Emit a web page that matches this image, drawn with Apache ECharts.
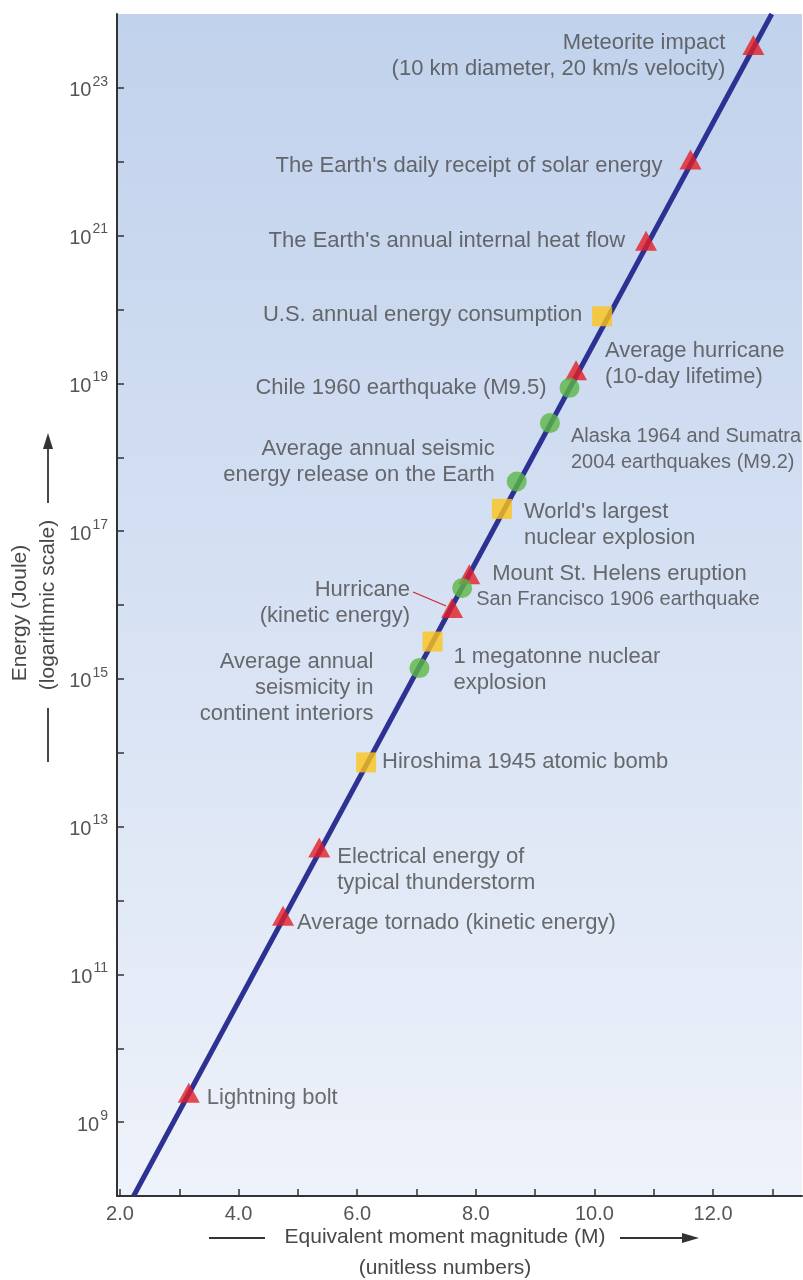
<!DOCTYPE html>
<html>
<head>
<meta charset="utf-8">
<script src="https://cdn.jsdelivr.net/npm/echarts@6/dist/echarts.min.js"></script>
<style>
html,body{margin:0;padding:0;background:#fff;}
#chart{width:803px;height:1280px;}
</style>
</head>
<body>
<div id="chart"></div>
<script>
// ---- Data ----
// Trend line: Energy vs equivalent moment magnitude
const lineMagnitudes = [2.23, 12.99];
const lineEnergies = [1e8, 1e24];

// Red triangles: natural phenomena
const triNames = [
  'Meteorite impact\n(10 km diameter, 20 km/s velocity)',
  "The Earth's daily receipt of solar energy",
  "The Earth's annual internal heat flow",
  'Average hurricane\n(10-day lifetime)',
  'Mount St. Helens eruption',
  'Hurricane\n(kinetic energy)',
  'Electrical energy of\ntypical thunderstorm',
  'Average tornado (kinetic energy)',
  'Lightning bolt'
];
const triMagnitudes = [12.68, 11.62, 10.87, 9.69, 7.89, 7.60, 5.36, 4.75, 3.16];
const triEnergies = [3.8e23, 1.07e22, 8.5e20, 1.5e19, 2.6e16, 9.1e15, 5.2e12, 6.2e11, 2.5e9];

// Yellow squares: human energy / explosions
const sqNames = [
  'U.S. annual energy consumption',
  "World's largest\nnuclear explosion",
  '1 megatonne nuclear\nexplosion',
  'Hiroshima 1945 atomic bomb'
];
const sqMagnitudes = [10.13, 8.44, 7.27, 6.15];
const sqEnergies = [8.1e19, 2.0e17, 3.2e15, 7.4e13];

// Green circles: earthquakes / seismicity
const cirNames = [
  'Chile 1960 earthquake (M9.5)',
  'Alaska 1964 and Sumatra\n2004 earthquakes (M9.2)',
  'Average annual seismic\nenergy release on the Earth',
  'San Francisco 1906 earthquake',
  'Average annual\nseismicity in\ncontinent interiors'
];
const cirMagnitudes = [9.58, 9.25, 8.69, 7.77, 7.05];
const cirEnergies = [8.7e18, 2.9e18, 4.7e17, 1.7e16, 1.4e15];

// Axis ticks
const xTickValues = [2, 3, 4, 5, 6, 7, 8, 9, 10, 11, 12, 13];
const xLabelValues = [2, 4, 6, 8, 10, 12];
const yTickValues = [1e8,1e9,1e10,1e11,1e12,1e13,1e14,1e15,1e16,1e17,1e18,1e19,1e20,1e21,1e22,1e23,1e24];
const yLabelValues = [1e9,1e11,1e13,1e15,1e17,1e19,1e21,1e23];

// ---- Label layout (align, dx, dy in px relative to marker centre, font size) ----
const triLayout = [['right',-28,11,22],['right',-28,6,22],['right',-21,0,22],['left',29,-6,22],['left',23,0,22],['right',-42,-5,22],['left',18,22,22],['left',14,7,22],['left',18,5,22]];
const sqLayout = [['right',-20,-1,22],['left',22,16,22],['left',21,28,22],['left',16,0,22]];
const cirLayout = [['right',-23,0,22],['left',21,26,20],['right',-22,-20,22],['left',14,12,20],['right',-46,20,22]];

const FONT = '"Liberation Sans", Arial, Helvetica, sans-serif';
const TXT = '#484848';

function buildData(names, mags, ens, layout) {
  return names.map((n, i) => ({
    name: n,
    value: [mags[i], ens[i]],
    label: {
      show: true,
      formatter: n,
      position: 'inside',
      align: layout[i][0],
      verticalAlign: 'middle',
      offset: [layout[i][1], layout[i][2]],
      fontSize: layout[i][3],
      lineHeight: 26,
      color: TXT,
      fontFamily: FONT
    }
  }));
}

const chart = echarts.init(document.getElementById('chart'), null, {renderer: 'canvas'});

const option = {
  animation: false,
  backgroundColor: '#ffffff',
  grid: {
    left: 117, top: 14, width: 685, height: 1182,
    show: true, borderWidth: 0,
    backgroundColor: new echarts.graphic.LinearGradient(0, 0, 0, 1, [
      {offset: 0, color: '#c1d2ec'},
      {offset: 0.5, color: '#d6e1f3'},
      {offset: 1, color: '#eef2fa'}
    ])
  },
  xAxis: {
    type: 'value', min: 1.95, max: 13.5,
    splitLine: {show: false},
    axisLine: {show: true, lineStyle: {color: '#333', width: 2}},
    axisTick: {show: true, inside: true, length: 7, customValues: xTickValues, lineStyle: {color: '#333', width: 1.5}},
    axisLabel: {
      customValues: xLabelValues, margin: 8,
      fontSize: 20, color: '#555', fontFamily: FONT,
      formatter: v => Number(v).toFixed(1)
    }
  },
  yAxis: {
    type: 'log', logBase: 10, min: 1e8, max: 1e24,
    splitLine: {show: false},
    axisLine: {show: true, lineStyle: {color: '#333', width: 2}},
    axisTick: {show: true, inside: true, length: 7, customValues: yTickValues, lineStyle: {color: '#333', width: 1.5}},
    axisLabel: {
      customValues: yLabelValues, margin: 9,
      color: '#555', fontFamily: FONT,
      formatter: v => '{b|10}{s|' + Math.round(Math.log10(v)) + '}',
      rich: {
        b: {fontSize: 20, lineHeight: 26, color: '#555', fontFamily: FONT, verticalAlign: 'bottom'},
        s: {fontSize: 14, lineHeight: 26, color: '#555', fontFamily: FONT, verticalAlign: 'top', padding: [0,0,0,1]}
      }
    }
  },
  series: [
    {
      type: 'line', name: 'trend',
      data: lineMagnitudes.map((m, i) => [m, lineEnergies[i]]),
      showSymbol: false, symbol: 'none',
      lineStyle: {color: '#2c3192', width: 5},
      z: 1, silent: true
    },
    {
      type: 'scatter', name: 'phenomena', symbol: 'triangle', symbolSize: [22, 20],
      itemStyle: {color: '#e31e26'},
      data: buildData(triNames, triMagnitudes, triEnergies, triLayout), z: 3
    },
    {
      type: 'scatter', name: 'explosions', symbol: 'rect', symbolSize: 20,
      itemStyle: {color: '#fcc419'},
      data: buildData(sqNames, sqMagnitudes, sqEnergies, sqLayout), z: 3
    },
    {
      type: 'scatter', name: 'earthquakes', symbol: 'circle', symbolSize: 20,
      itemStyle: {color: '#5cb746'},
      data: buildData(cirNames, cirMagnitudes, cirEnergies, cirLayout), z: 3
    }
  ]
};
chart.setOption(option);

// Decorations: axis titles with arrows, and the leader line for "Hurricane (kinetic energy)"
const hk = chart.convertToPixel({gridIndex: 0}, [triMagnitudes[5], triEnergies[5]]);
const ax = '#333';
chart.setOption({
  graphic: [
    {type: 'text', x: 20, y: 613, rotation: Math.PI / 2,
     style: {text: 'Energy (Joule)', fill: TXT, font: '21px ' + FONT, textAlign: 'center', textVerticalAlign: 'middle'}},
    {type: 'text', x: 48, y: 605, rotation: Math.PI / 2,
     style: {text: '(logarithmic scale)', fill: TXT, font: '21px ' + FONT, textAlign: 'center', textVerticalAlign: 'middle'}},
    {type: 'line', shape: {x1: 48, y1: 503, x2: 48, y2: 446}, style: {stroke: ax, lineWidth: 1.8}},
    {type: 'polygon', shape: {points: [[48, 433], [43, 449], [53, 449]]}, style: {fill: ax}},
    {type: 'line', shape: {x1: 48, y1: 708, x2: 48, y2: 762}, style: {stroke: ax, lineWidth: 1.8}},

    {type: 'text', x: 445, y: 1237,
     style: {text: 'Equivalent moment magnitude (M)', fill: TXT, font: '21px ' + FONT, textAlign: 'center', textVerticalAlign: 'middle'}},
    {type: 'text', x: 445, y: 1268,
     style: {text: '(unitless numbers)', fill: TXT, font: '21px ' + FONT, textAlign: 'center', textVerticalAlign: 'middle'}},
    {type: 'line', shape: {x1: 209, y1: 1238, x2: 265, y2: 1238}, style: {stroke: ax, lineWidth: 1.8}},
    {type: 'line', shape: {x1: 620, y1: 1238, x2: 686, y2: 1238}, style: {stroke: ax, lineWidth: 1.8}},
    {type: 'polygon', shape: {points: [[699, 1238], [682, 1233], [682, 1243]]}, style: {fill: ax}},

    {type: 'line', z: 10, shape: {x1: hk[0] - 39, y1: hk[1] - 16, x2: hk[0] - 6, y2: hk[1] - 2},
     style: {stroke: '#d9232e', lineWidth: 1.3}}
  ]
});
</script>
</body>
</html>
